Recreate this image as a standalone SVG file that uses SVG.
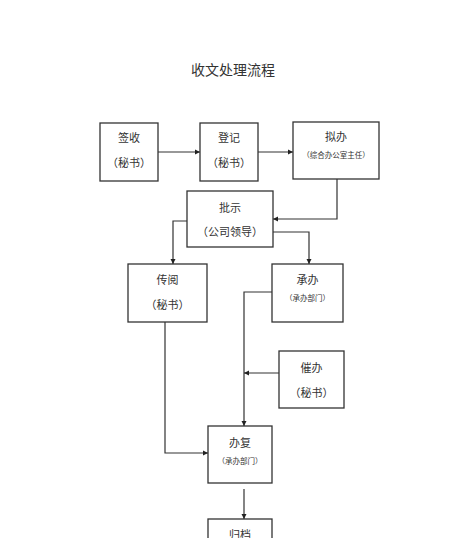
<svg xmlns="http://www.w3.org/2000/svg" width="475" height="538" viewBox="0 0 475 538">
<style>
.box{fill:#fff;stroke:#333;stroke-width:1.3}
.t{font-family:"Liberation Serif","Noto Sans CJK SC",serif;fill:#333;text-anchor:middle;font-size:11px}
.s{font-size:7.5px}
.c{fill:none;stroke:#333;stroke-width:1.2}
</style>
<defs>
<marker id="a" markerWidth="6" markerHeight="6" refX="5" refY="3" orient="auto" markerUnits="userSpaceOnUse">
<path d="M0,0.5 L5,3 L0,5.5 Z" fill="#222"/>
</marker>
</defs>
<rect width="475" height="538" fill="#fff"/>
<text class="t" x="233" y="75" style="font-size:14px">收文处理流程</text>
<g id="connectors">
<path class="c" d="M158,152 H200" marker-end="url(#a)"/>
<path class="c" d="M258,152 H293" marker-end="url(#a)"/>
<path class="c" d="M337,179 V219 H273" marker-end="url(#a)"/>
<path class="c" d="M187,221 H173 V264" marker-end="url(#a)"/>
<path class="c" d="M273,232 H309 V264" marker-end="url(#a)"/>
<path class="c" d="M272,292 H244 V426" marker-end="url(#a)"/>
<path class="c" d="M279,373 H244" marker-end="url(#a)"/>
<path class="c" d="M165,322 V453 H208" marker-end="url(#a)"/>
<path class="c" d="M244,489 V519" marker-end="url(#a)"/>
</g>
<g id="qianshou"><rect class="box" x="100" y="123" width="58" height="58"/><text class="t" x="129" y="142">签收</text><text class="t" x="129" y="167">（秘书）</text></g>
<g id="dengji"><rect class="box" x="200" y="123" width="58" height="58"/><text class="t" x="229" y="142">登记</text><text class="t" x="229" y="167">（秘书）</text></g>
<g id="niban"><rect class="box" x="293" y="122" width="86" height="57"/><text class="t" x="336" y="141">拟办</text><text class="t s" x="336" y="158">（综合办公室主任）</text></g>
<g id="pishi"><rect class="box" x="187" y="191" width="86" height="56"/><text class="t" x="230" y="212">批示</text><text class="t" x="230" y="236">（公司领导）</text></g>
<g id="chuanyue"><rect class="box" x="128" y="264" width="79" height="58"/><text class="t" x="167.5" y="284">传阅</text><text class="t" x="167.5" y="309">（秘书）</text></g>
<g id="chengban"><rect class="box" x="272" y="264" width="71" height="58"/><text class="t" x="307.5" y="284">承办</text><text class="t s" x="307.5" y="301">（承办部门）</text></g>
<g id="cuiban"><rect class="box" x="279" y="351" width="65" height="57"/><text class="t" x="311.5" y="372">催办</text><text class="t" x="311.5" y="397">（秘书）</text></g>
<g id="banfu"><rect class="box" x="208" y="426" width="64" height="57"/><text class="t" x="240" y="447">办复</text><text class="t s" x="240" y="464">（承办部门）</text></g>
<g id="guidang"><rect class="box" x="208" y="519" width="64" height="40"/><text class="t" x="240" y="539">归档</text></g>
</svg>
